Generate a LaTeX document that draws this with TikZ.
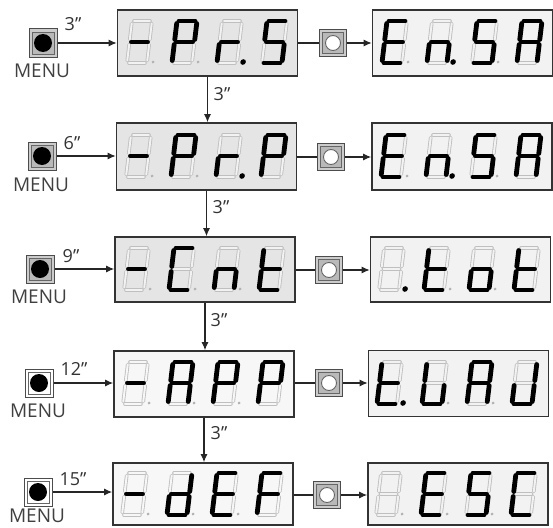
\documentclass[tikz,border=0pt]{standalone}
\usepackage{fontspec}
\setmainfont{Open Sans}
\usetikzlibrary{arrows.meta}
\definecolor{bfill}{gray}{0.9}
\tikzset{
  ghostA/.style={draw=gray!50, line width=3.6pt, line cap=round},
  ghostB/.style={draw=bfill, line width=1.9pt, line cap=round},
  segon/.style={draw=black, line width=4.8pt, line cap=round},
  dispbox/.style={draw=black!80, line width=1.6pt, fill=bfill, inner sep=0pt, minimum width=180pt},
  menubtn/.style={draw=black!70, line width=1pt, fill=gray!40, minimum size=28pt, inner sep=0pt},
  selbtn/.style={draw=black!70, line width=1pt, fill=gray!40, minimum size=27pt, inner sep=0pt},
  conn/.style={draw=black!85, line width=1.2pt},
  arr/.style={conn, -{Latex[length=8pt,width=7pt]}},
  lab/.style={font=\fontsize{18}{18}\selectfont, text=black!80, inner sep=0pt},
  menulab/.style={font=\fontsize{19}{19}\selectfont, text=black!75, inner sep=0pt},
}
\newcommand\drawseg[2]{%
  \if#2a\draw[#1] (2,0)--(18,0);\fi
  \if#2b\draw[#1] (20,2.5)--(20,18.5);\fi
  \if#2c\draw[#1] (20,23.5)--(20,39.5);\fi
  \if#2d\draw[#1] (2,42)--(18,42);\fi
  \if#2e\draw[#1] (0,23.5)--(0,39.5);\fi
  \if#2f\draw[#1] (0,2.5)--(0,18.5);\fi
  \if#2g\draw[#1] (2,21)--(18,21);\fi}
\newcommand\dig[4]{%
  \begin{scope}[shift={(#1,#2)},xslant=0.12]
    \foreach \s in {a,b,c,d,e,f,g} {\drawseg{ghostA}{\s}}
    \foreach \s in {a,b,c,d,e,f,g} {\drawseg{ghostB}{\s}}
    \foreach \s in {#3} {\drawseg{segon}{\s}}
    \ifnum#4=1 \fill[black] (26,41) circle (2.8);\fi
    \ifnum#4=2 \fill[gray!60] (26,41) circle (1.5);\fi
  \end{scope}}
\newcommand\disp[9]{%
  \dig{#1}{#2}{#3}{#4}%
  \dig{#1+45}{#2}{#5}{#6}%
  \dig{#1+90}{#2}{#7}{#8}%
  \dig{#1+135}{#2}{#9}{0}}
\newcommand\mbtn[2]{% name, inner fill
  \draw[black!60, line width=0.8pt, fill=#2] ([shift={(3.5,-3.5)}]#1.south west) rectangle ([shift={(-3.5,3.5)}]#1.north east);
  \fill[black] (#1.center) circle (9);}
\newcommand\sbtn[1]{%
  \draw[black!60, line width=0.8pt, fill=gray!55] ([shift={(3.5,-3.5)}]#1.south west) rectangle ([shift={(-3.5,3.5)}]#1.north east);
  \draw[black!60, line width=0.9pt, fill=white] (#1.center) circle (7.5);}
\begin{document}
\begin{tikzpicture}[x=1pt,y=-1pt]
\useasboundingbox (0,0) rectangle (553,527);
% left displays
\node[dispbox, minimum height=66pt] (L1) at (207.5,43) {};
\node[dispbox, minimum height=67pt] (L2) at (206.5,156.5) {};
\node[dispbox, minimum height=65pt] (L3) at (205,269.5) {};
\colorlet{bfill}{gray!6}
\node[dispbox, minimum height=66pt] (L4) at (204,384) {};
\node[dispbox, minimum height=62pt] (L5) at (203,494) {};
\colorlet{bfill}{gray!10}
% right displays
\node[dispbox, minimum height=66pt] (R1) at (462.5,43) {};
\node[dispbox, minimum height=67pt] (R2) at (462,156.5) {};
\node[dispbox, minimum height=65pt] (R3) at (460.5,269.5) {};
\node[dispbox, minimum height=66pt] (R4) at (458.5,383.5) {};
\node[dispbox, minimum height=62pt] (R5) at (458,494) {};
% digits
\colorlet{bfill}{gray!10}
\disp{132}{21}{g}{2}{a,b,f,g,e}{2}{e,g}{1}{a,f,g,c,d}
\disp{131}{135}{g}{2}{a,b,f,g,e}{2}{e,g}{1}{a,b,f,g,e}
\disp{129}{248}{g}{2}{a,f,e,d}{2}{e,g,c}{2}{f,g,e,d}
\disp{387}{21}{a,f,g,e,d}{2}{e,g,c}{1}{a,f,g,c,d}{2}{a,b,c,e,f,g}
\disp{386}{135}{a,f,g,e,d}{2}{e,g,c}{1}{a,f,g,c,d}{2}{a,b,c,e,f,g}
\disp{384}{248}{x}{1}{f,g,e,d}{2}{g,c,d,e}{2}{f,g,e,d}
\disp{382}{362}{f,g,e,d}{1}{f,e,d,c}{2}{a,b,c,e,f,g}{2}{b,c,d,e}
\disp{381}{473}{x}{2}{a,f,g,e,d}{2}{a,f,g,c,d}{2}{a,f,e,d}
\colorlet{bfill}{gray!6}
\disp{128}{362}{g}{2}{a,b,c,e,f,g}{2}{a,b,f,g,e}{2}{a,b,f,g,e}
\disp{127}{473}{g}{2}{b,c,d,e,g}{2}{a,f,g,e,d}{2}{a,f,g,e}
% menu buttons
\node[menubtn] (M1) at (43,43) {};
\node[menubtn] (M2) at (42,156) {};
\node[menubtn] (M3) at (40,269) {};
\node[menubtn, fill=white] (M4) at (39,383) {};
\node[menubtn, fill=white] (M5) at (38,492) {};
\mbtn{M1}{gray!55}\mbtn{M2}{gray!55}\mbtn{M3}{gray!55}\mbtn{M4}{white}\mbtn{M5}{white}
\node[menulab] (N1) at (42,71) {MENU};
\node[menulab] (N2) at (41,185) {MENU};
\node[menulab] (N3) at (39,297) {MENU};
\node[menulab] (N4) at (38,411) {MENU};
\node[menulab] (N5) at (37,516) {MENU};
% select buttons
\node[selbtn] (S1) at (333,43) {};
\node[selbtn] (S2) at (331,157) {};
\node[selbtn] (S3) at (329,270) {};
\node[selbtn] (S4) at (329,383) {};
\node[selbtn] (S5) at (327,495) {};
\sbtn{S1}\sbtn{S2}\sbtn{S3}\sbtn{S4}\sbtn{S5}
% connectors
\foreach \i in {1,...,5} {
  \draw[arr] (M\i.east) -- (M\i.east -| L\i.west);
  \draw[conn] (S\i.west -| L\i.east) -- (S\i.west);
  \draw[arr] (S\i.east) -- (S\i.east -| R\i.west);
}
\foreach \i/\j in {1/2,2/3,3/4,4/5} {
  \draw[arr] (L\i.south) -- (L\i.south |- L\j.north);
}
% time labels
\node[lab] (T1) at (73,24) {3"};
\node[lab] (T2) at (72,143) {6"};
\node[lab] (T3) at (71,256) {9"};
\node[lab] (T4) at (74,369) {12"};
\node[lab] (T5) at (73,479) {15"};
\node[lab] (V1) at (222,94) {3"};
\node[lab] (V2) at (221,207) {3"};
\node[lab] (V3) at (219,320) {3"};
\node[lab] (V4) at (219,433) {3"};
\end{tikzpicture}
\end{document}
